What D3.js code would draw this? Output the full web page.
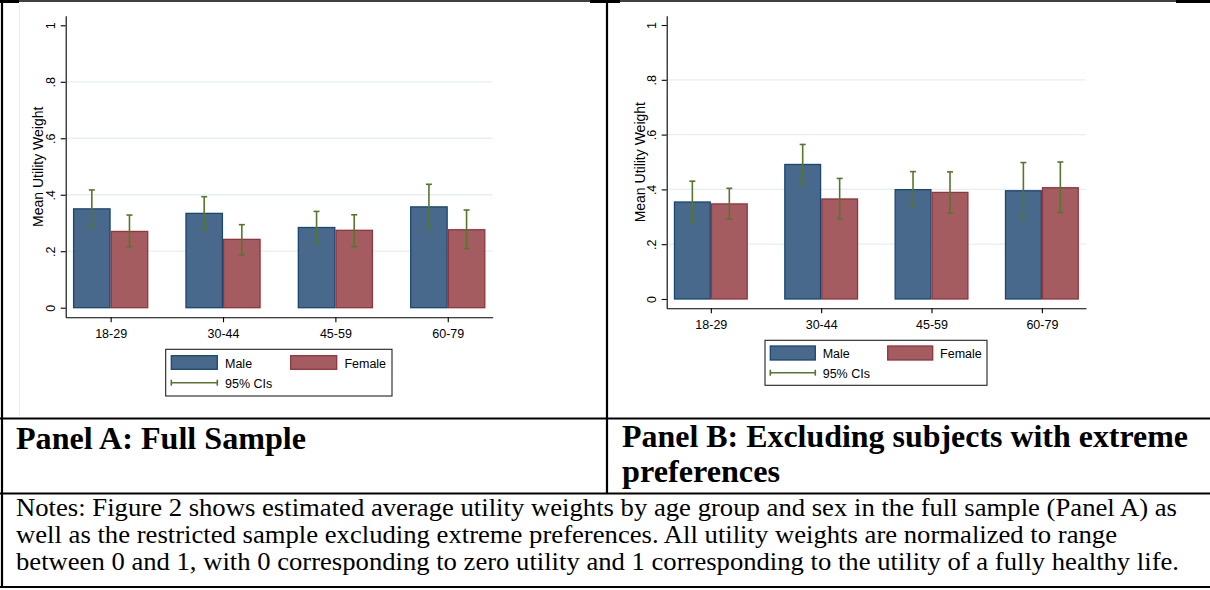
<!DOCTYPE html>
<html>
<head>
<meta charset="utf-8">
<script src="https://cdn.jsdelivr.net/npm/d3@7"></script>
<style>
  body { margin: 0; background: #fff; }
  svg { display: block; }
</style>
</head>
<body>
<svg id="canvas" width="1210" height="590"></svg>
<script>
// ************************************************************************************** //
// Data

var ageGroups = ['18-29', '30-44', '45-59', '60-79'];
var sexes = ['Male', 'Female'];
var yTickValues = [0, 0.2, 0.4, 0.6, 0.8, 1];
var yTickLabels = ['0', '.2', '.4', '.6', '.8', '1'];
var gridValues = [0.2, 0.4, 0.6, 0.8];

// Panel A: full sample
var fullMale     = [0.350, 0.334, 0.284, 0.357];
var fullMaleLo   = [0.284, 0.275, 0.231, 0.281];
var fullMaleHi   = [0.417, 0.393, 0.341, 0.437];
var fullFemale   = [0.270, 0.242, 0.274, 0.276];
var fullFemaleLo = [0.216, 0.187, 0.216, 0.209];
var fullFemaleHi = [0.328, 0.294, 0.329, 0.346];

// Panel B: excluding extreme preferences
var exclMale     = [0.354, 0.491, 0.399, 0.395];
var exclMaleLo   = [0.280, 0.419, 0.336, 0.293];
var exclMaleHi   = [0.430, 0.564, 0.465, 0.498];
var exclFemale   = [0.347, 0.365, 0.389, 0.406];
var exclFemaleLo = [0.292, 0.293, 0.313, 0.316];
var exclFemaleHi = [0.404, 0.440, 0.464, 0.500];

var yTitle = 'Mean Utility Weight';
var legendLabels = ['Male', 'Female', '95% CIs'];
var panelATitle = ['Panel A: Full Sample'];
var panelBTitle = ['Panel B: Excluding subjects with extreme', 'preferences'];
var notesLines = [
  'Notes: Figure 2 shows estimated average utility weights by age group and sex in the full sample (Panel A) as',
  'well as the restricted sample excluding extreme preferences. All utility weights are normalized to range',
  'between 0 and 1, with 0 corresponding to zero utility and 1 corresponding to the utility of a fully healthy life.'
];

// ************************************************************************************** //
// Styles

var fill = { Male: '#48698c', Female: '#a55c61' };
var edge = { Male: '#1a476f', Female: '#90353b' };
var ciColor = '#56762f';
var sansFont = '"Liberation Sans", Arial, sans-serif';
var serifFont = '"Liberation Serif", "Times New Roman", serif';

var svg = d3.select('#canvas');

// ************************************************************************************** //
// Table frame

svg.append('rect').attr('x', 0).attr('y', 0).attr('width', 1210).attr('height', 590).attr('fill', '#fff');
var frame = [
  [0, 1, 1210, 1, 1.6],
  [2, 0, 2, 588, 2.2],
  [607, 0, 607, 494, 2.2],
  [0, 418.5, 1210, 418.5, 2.2],
  [0, 493.5, 1210, 493.5, 2.2],
  [0, 587, 1210, 587, 2.2]
];
svg.selectAll('line.frame').data(frame).enter().append('line')
  .attr('class', 'frame')
  .attr('x1', d => d[0]).attr('y1', d => d[1]).attr('x2', d => d[2]).attr('y2', d => d[3])
  .attr('stroke', '#000').attr('stroke-width', d => d[4]);
// thicker bits of the top rule where the chart images do not cover it
[[0, 19], [590, 620], [1176, 1210]].forEach(function(s){
  svg.append('rect').attr('x', s[0]).attr('y', 0).attr('width', s[1] - s[0]).attr('height', 3).attr('fill', '#000');
});
svg.append('line').attr('x1', 19.5).attr('x2', 19.5).attr('y1', 3).attr('y2', 416)
  .attr('stroke', '#ececec').attr('stroke-width', 1);

// ************************************************************************************** //
// Panels

function drawPanel(p){
  var g = svg.append('g');
  var x = d3.scalePoint().domain(ageGroups).range([p.left, p.right]).padding(0.4);
  var barW = 0.335 * x.step();
  var sub = d3.scaleBand().domain(sexes).range([-barW, barW]);
  var y = d3.scaleLinear().domain([-0.034, 1.034]).range([p.bottom, p.top]);

  g.selectAll('line.grid').data(gridValues).enter().append('line')
    .attr('class', 'grid')
    .attr('x1', p.left).attr('x2', p.right)
    .attr('y1', d => y(d)).attr('y2', d => y(d))
    .attr('stroke', '#e6eff0').attr('stroke-width', 1.3);

  var rows = [];
  ageGroups.forEach(function(a, i){
    rows.push({ age: a, sex: 'Male', v: p.male[i], lo: p.maleLo[i], hi: p.maleHi[i] });
    rows.push({ age: a, sex: 'Female', v: p.female[i], lo: p.femaleLo[i], hi: p.femaleHi[i] });
  });

  g.selectAll('rect.bar').data(rows).enter().append('rect')
    .attr('class', 'bar')
    .attr('x', d => x(d.age) + sub(d.sex) + 0.6)
    .attr('width', sub.bandwidth() - 1.2)
    .attr('y', d => y(d.v))
    .attr('height', d => y(0) - y(d.v))
    .attr('fill', d => fill[d.sex])
    .attr('stroke', d => edge[d.sex]).attr('stroke-width', 1.3);

  var ci = g.selectAll('g.ci').data(rows).enter().append('g')
    .attr('class', 'ci')
    .attr('transform', d => 'translate(' + (x(d.age) + sub(d.sex) + sub.bandwidth() / 2) + ',0)')
    .attr('stroke', ciColor).attr('stroke-width', 1.6);
  ci.append('line').attr('x1', 0).attr('x2', 0).attr('y1', d => y(d.lo)).attr('y2', d => y(d.hi));
  ci.append('line').attr('x1', -3).attr('x2', 3).attr('y1', d => y(d.lo)).attr('y2', d => y(d.lo));
  ci.append('line').attr('x1', -3).attr('x2', 3).attr('y1', d => y(d.hi)).attr('y2', d => y(d.hi));

  // axes
  var yAxis = g.append('g').attr('transform', 'translate(' + p.left + ',0)')
    .call(d3.axisLeft(y).tickValues(yTickValues).tickFormat((d, i) => yTickLabels[i]).tickSize(5).tickSizeOuter(0));
  yAxis.selectAll('text')
    .attr('x', null).attr('dy', null)
    .attr('transform', 'translate(-10.5,0) rotate(-90)')
    .attr('text-anchor', 'middle');

  var xAxis = g.append('g').attr('transform', 'translate(0,' + p.bottom + ')')
    .call(d3.axisBottom(x).tickSize(5).tickSizeOuter(0));
  xAxis.selectAll('text').attr('y', 21).attr('dy', null);

  [yAxis, xAxis].forEach(function(a){
    a.attr('font-family', sansFont).attr('font-size', 12.5);
    a.selectAll('text').attr('fill', '#000');
    a.selectAll('line, path').attr('stroke', '#000').attr('stroke-width', 1.1);
  });

  g.append('text')
    .attr('transform', 'translate(' + p.titleX + ',' + p.titleY + ') rotate(-90)')
    .attr('text-anchor', 'middle')
    .attr('font-family', sansFont).attr('font-size', 14)
    .text(yTitle);

  // legend
  var L = p.legend;
  var lg = g.append('g').attr('font-family', sansFont).attr('font-size', 12.5);
  lg.append('rect').attr('x', L.x).attr('y', L.y).attr('width', L.w).attr('height', L.h)
    .attr('fill', '#fff').attr('stroke', '#222').attr('stroke-width', 1.1);
  sexes.forEach(function(s, i){
    var sx = L.x + L.swatchX[i];
    lg.append('rect').attr('x', sx).attr('y', L.y + L.row1).attr('width', L.sw).attr('height', L.sh)
      .attr('fill', fill[s]).attr('stroke', edge[s]).attr('stroke-width', 1.3);
    lg.append('text').attr('x', sx + L.textGap).attr('y', L.y + L.text1).text(legendLabels[i]);
  });
  var cx0 = L.x + L.swatchX[0], cx1 = cx0 + L.sw, cy = L.y + L.row2;
  lg.append('line').attr('x1', cx0).attr('x2', cx1).attr('y1', cy).attr('y2', cy)
    .attr('stroke', ciColor).attr('stroke-width', 1.6);
  [cx0, cx1].forEach(function(cx){
    lg.append('line').attr('x1', cx).attr('x2', cx).attr('y1', cy - 3).attr('y2', cy + 3)
      .attr('stroke', ciColor).attr('stroke-width', 1.6);
  });
  lg.append('text').attr('x', cx0 + L.textGap).attr('y', L.y + L.text2).text(legendLabels[2]);
}

drawPanel({
  left: 65.7, right: 492.7, top: 15.7, bottom: 317.3, titleX: 42.5, titleY: 166.8,
  male: fullMale, maleLo: fullMaleLo, maleHi: fullMaleHi,
  female: fullFemale, femaleLo: fullFemaleLo, femaleHi: fullFemaleHi,
  legend: { x: 165.7, y: 349.3, w: 226.3, h: 46.7, swatchX: [5.6, 125], row1: 6.4, sw: 46, sh: 13.6,
            textGap: 53.7, text1: 18.7, row2: 33.4, text2: 39 }
});

drawPanel({
  left: 666.7, right: 1086, top: 15.7, bottom: 308.3, titleX: 644.5, titleY: 162.2,
  male: exclMale, maleLo: exclMaleLo, maleHi: exclMaleHi,
  female: exclFemale, femaleLo: exclFemaleLo, femaleHi: exclFemaleHi,
  legend: { x: 765, y: 340.3, w: 222, h: 45, swatchX: [5.3, 122.7], row1: 5.7, sw: 45, sh: 14,
            textGap: 52.4, text1: 18, row2: 32.4, text2: 37.4 }
});

// ************************************************************************************** //
// Table text (widths fitted to the reference line lengths)

function addLines(lines, widths, x, y0, step, size, weight){
  svg.append('g').selectAll('text').data(lines).enter().append('text')
    .attr('x', x).attr('y', (d, i) => y0 + i * step)
    .attr('font-family', serifFont).attr('font-size', size).attr('font-weight', weight)
    .attr('textLength', (d, i) => widths[i]).attr('lengthAdjust', 'spacingAndGlyphs')
    .attr('fill', '#000')
    .text(d => d);
}
addLines(panelATitle, [290], 16, 448.5, 35, 32, 'bold');
addLines(panelBTitle, [566, 158], 622, 447, 35, 32, 'bold');
addLines(notesLines, [1161, 1101, 1163], 16, 516, 27, 25, 'normal');
</script>
</body>
</html>
